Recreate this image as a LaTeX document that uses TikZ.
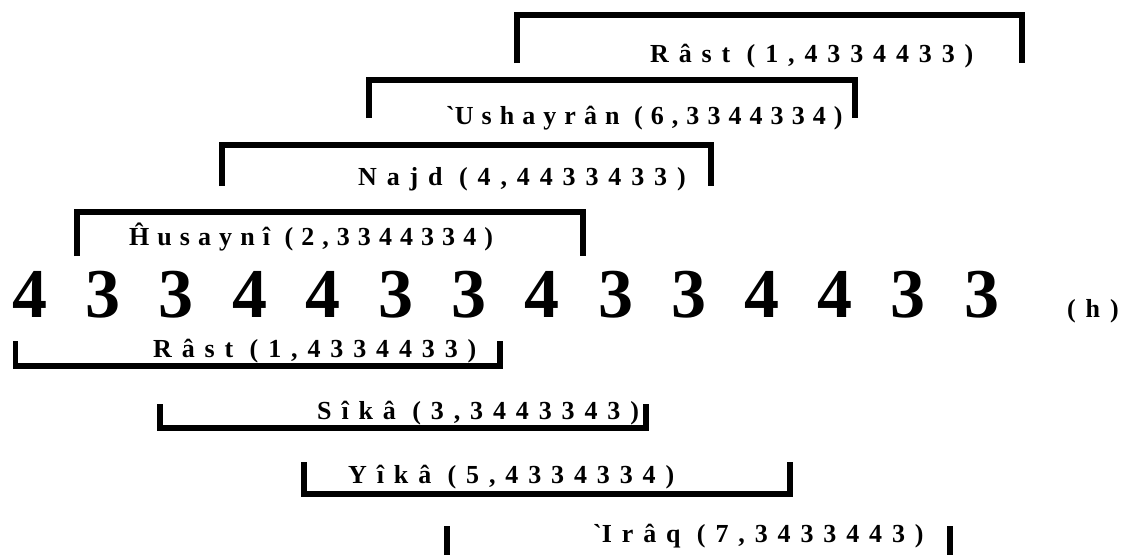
\documentclass[tikz,border=0pt]{standalone}
\usepackage{fontspec}
\setmainfont{Liberation Serif}
\newfontfamily\labfont[LetterSpace=38]{Liberation Serif}
\newfontfamily\labtight[LetterSpace=31]{Liberation Serif}
\usetikzlibrary{positioning}

\tikzset{
	brk/.style={line width=5.5pt, black},
	lab/.style={anchor=base west, inner sep=0pt, font=\labfont\bfseries\fontsize{26}{30}\selectfont},
	labt/.style={lab, font=\labtight\bfseries\fontsize{26}{30}\selectfont},
	big/.style={anchor=base, inner sep=0pt, font=\bfseries\fontsize{70}{80}\selectfont}
}

\begin{document}
\begin{tikzpicture}[x=1pt, y=-1pt]
		\useasboundingbox (0,0) rectangle (1124,554);
		\clip (0,0) rectangle (1124,554);
		
		% 音程
		\foreach \d [count=\i from 0] in {4,3,3,4,4,3,3,4,3,3,4,4,3,3}
			\node[big] (d\i) at ({30+73.2*\i},317) {\d};
		\node[lab] (h) at (1067,317) {(h)};
		
		% 上方
		\draw[brk] (517,63) |- (1022,15) -- (1022,63);
		\node[lab] (rastA) at (650,62) {Râst (1,4334433)};
		\draw[brk] (369,118) |- (855,80) -- (855,118);
		\node[labt] (ushayran) at (446,124) {\textasciigrave Ushayrân (6,3344334)};
		\draw[brk] (222,186) |- (711,145) -- (711,186);
		\node[lab] (najd) at (358,185) {Najd (4,4433433)};
		\draw[brk] (77,256) |- (583,212) -- (583,256);
		\node[labt] (husayni) at (129,245) {Ĥusaynî (2,3344334)};
		
		% 下方
		\draw[brk] (15.5,341) |- (500,366) -- (500,341);
		\node[lab] (rastB) at (153,357) {Râst (1,4334433)};
		\draw[brk] (160,404) |- (646,428) -- (646,404);
		\node[lab] (sika) at (317,419) {Sîkâ (3,3443343)};
		\draw[brk] (304,462) |- (790,494) -- (790,462);
		\node[lab] (yika) at (348,483) {Yîkâ (5,4334334)};
		\draw[brk] (447,526) |- (950,562) -- (950,526);
		\node[lab] (iraq) at (593,542) {\textasciigrave Irâq (7,3433443)};
\end{tikzpicture}
\end{document}
